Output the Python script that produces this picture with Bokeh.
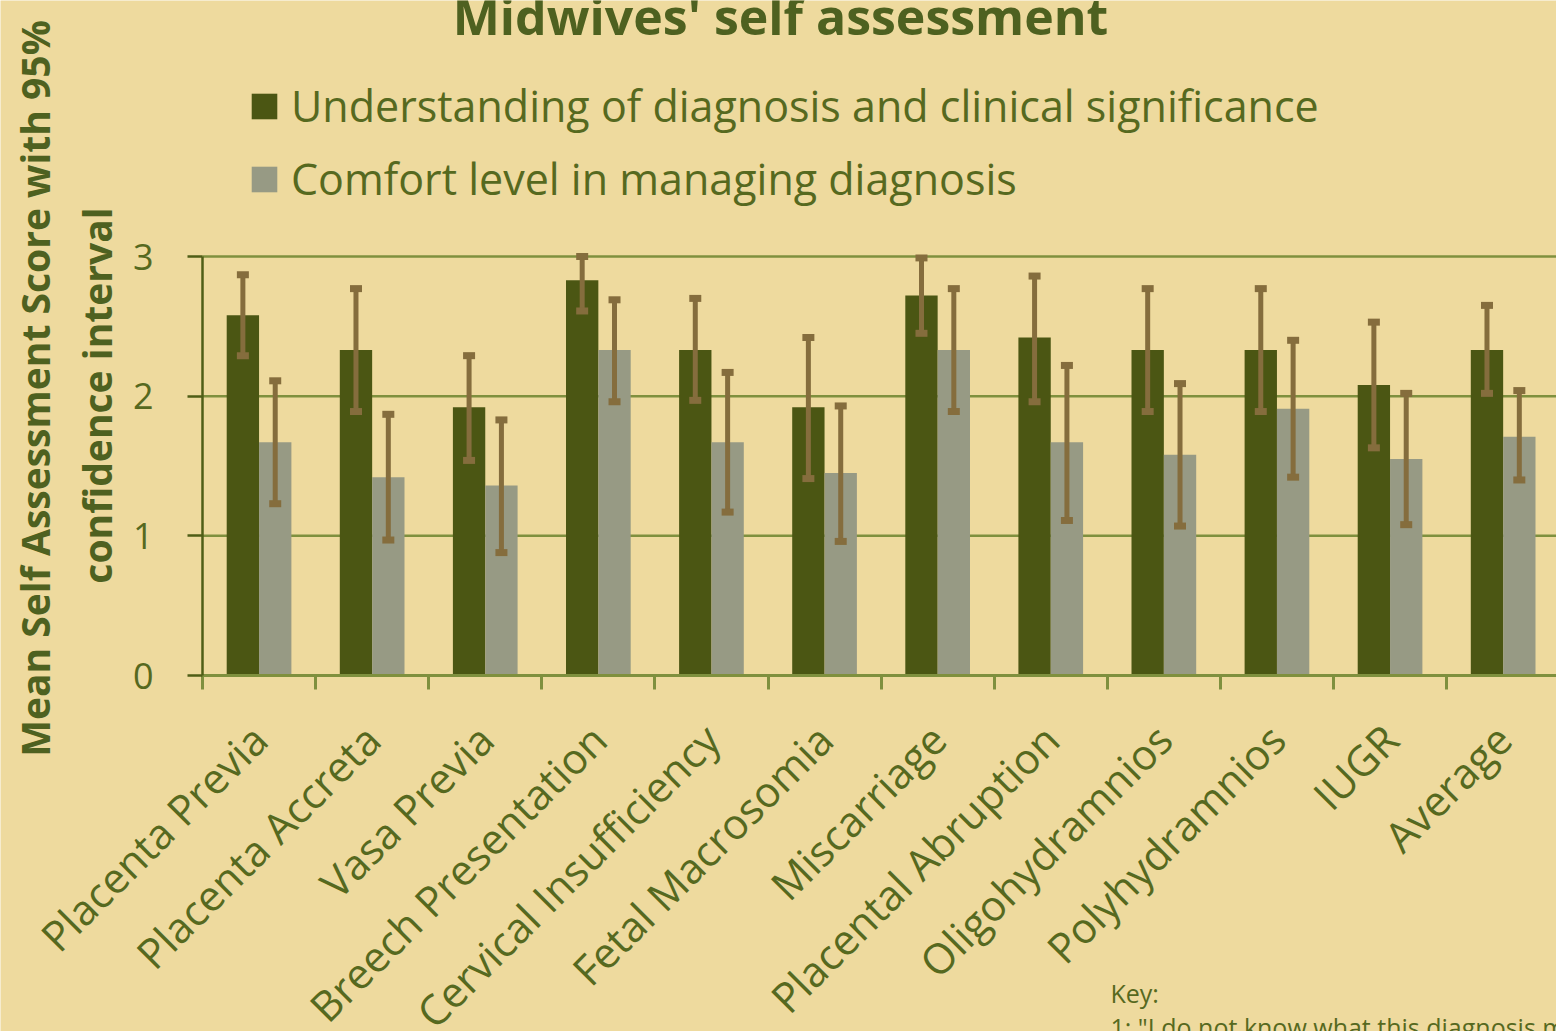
import math
from bokeh.plotting import figure
from bokeh.models import (ColumnDataSource, FixedTicker, Range1d, Label, Legend, LegendItem,
                          CustomJSTickFormatter)
from bokeh.embed import file_html
from bokeh.resources import INLINE

# ---------------- data ----------------
categories = ["Placenta Previa", "Placenta Accreta", "Vasa Previa", "Breech Presentation",
              "Cervical Insufficiency", "Fetal Macrosomia", "Miscarriage", "Placental Abruption",
              "Oligohydramnios", "Polyhydramnios", "IUGR", "Average"]

understanding = [2.58, 2.33, 1.92, 2.83, 2.33, 1.92, 2.72, 2.42, 2.33, 2.33, 2.08, 2.33]
understanding_lo = [2.29, 1.89, 1.54, 2.61, 1.97, 1.41, 2.45, 1.96, 1.89, 1.89, 1.63, 2.02]
understanding_hi = [2.87, 2.77, 2.29, 3.00, 2.70, 2.42, 2.99, 2.86, 2.77, 2.77, 2.53, 2.65]

comfort = [1.67, 1.42, 1.36, 2.33, 1.67, 1.45, 2.33, 1.67, 1.58, 1.91, 1.55, 1.71]
comfort_lo = [1.23, 0.97, 0.88, 1.96, 1.17, 0.96, 1.89, 1.11, 1.07, 1.42, 1.08, 1.40]
comfort_hi = [2.11, 1.87, 1.83, 2.69, 2.17, 1.93, 2.77, 2.22, 2.09, 2.40, 2.02, 2.04]

y_ticks = [0, 1, 2, 3]

series_names = ["Understanding of diagnosis and clinical significance",
                "Comfort level in managing diagnosis"]

title_text = "Midwives' self assessment"
ylabel_lines = ["Mean Self Assessment Score with 95%", "confidence interval"]
key_lines = ["Key:", "1: \"I do not know what this diagnosis means\""]

# ---------------- style / geometry ----------------
BG = "#EEDA9E"
DARK = "#4B5613"
GRAY = "#979A84"
ERR = "#856D3D"
GRID = "#7F903E"
AXIS_DARK = "#4F5E16"
TEXT = "#56691F"
TITLE = "#4E6120"
FONT = "Open Sans"

W, H = 1556, 1031
X0_PX, Y0_PX = 202, 675          # pixel position of data origin
UX, UY = 113.1, 419 / 3           # pixels per data unit

def dx(px):
    return (px - X0_PX) / UX

def dy(py):
    return (Y0_PX - py) / UY

x_end = dx(W)

p = figure(width=W, height=H, output_backend="svg", toolbar_location=None,
           x_range=Range1d(dx(0), x_end), y_range=Range1d(dy(H), dy(0)),
           min_border=0)
p.background_fill_color = BG
p.border_fill_color = BG
p.outline_line_color = None
p.xgrid.visible = False
p.ygrid.visible = False

n = len(categories)
centers = [i + 0.5 for i in range(n)]
off = 0.143
bw = 0.286

# horizontal grid lines (from the y ticks, starting at the axis)
grid_vals = [t for t in y_ticks if t > 0]
p.segment(x0=[0] * len(grid_vals), x1=[x_end] * len(grid_vals), y0=grid_vals, y1=grid_vals,
          line_color=GRID, line_width=2.5, level="underlay")

src1 = ColumnDataSource(dict(x=[c - off for c in centers], top=understanding,
                             lo=understanding_lo, hi=understanding_hi))
src2 = ColumnDataSource(dict(x=[c + off for c in centers], top=comfort,
                             lo=comfort_lo, hi=comfort_hi))

r1 = p.vbar(x="x", top="top", bottom=0, width=bw, source=src1, fill_color=DARK, line_color=None)
r2 = p.vbar(x="x", top="top", bottom=0, width=bw, source=src2, fill_color=GRAY, line_color=None)

for s in (src1, src2):
    p.segment(x0="x", x1="x", y0="lo", y1="hi", source=s, line_color=ERR, line_width=5)
    p.rect(x="x", y="lo", width=12, height=7, width_units="screen", height_units="screen",
           source=s, fill_color=ERR, line_color=None)
    p.rect(x="x", y="hi", width=12, height=7, width_units="screen", height_units="screen",
           source=s, fill_color=ERR, line_color=None)

# y axis (placed at x = 0)
ya = p.yaxis[0]
ya.fixed_location = 0
ya.bounds = (0, 3)
ya.ticker = FixedTicker(ticks=y_ticks)
ya.axis_line_color = AXIS_DARK
ya.axis_line_width = 2.5
ya.major_tick_line_color = AXIS_DARK
ya.major_tick_line_width = 2.5
ya.major_tick_out = 15
ya.major_tick_in = 0
ya.minor_tick_line_color = None
ya.major_label_text_font = FONT
ya.major_label_text_font_size = "36px"
ya.major_label_text_color = TEXT
ya.major_label_standoff = 34

# x axis (placed at y = 0): labels at centres, tick marks at boundaries
xa = p.xaxis[0]
xa.fixed_location = 0
xa.bounds = (0, x_end)
xa.ticker = FixedTicker(ticks=centers, minor_ticks=[float(i) for i in range(n + 1)])
xa.formatter = CustomJSTickFormatter(args=dict(cats=categories),
                                     code="return cats[Math.round(tick - 0.5)];")
xa.axis_line_color = GRID
xa.axis_line_width = 3
xa.major_tick_line_color = None
xa.major_tick_out = 0
xa.major_tick_in = 0
xa.minor_tick_line_color = GRID
xa.minor_tick_line_width = 3
xa.minor_tick_out = 14
xa.minor_tick_in = 0
xa.major_label_orientation = math.pi / 4
xa.major_label_text_font = FONT
xa.major_label_text_font_size = "42px"
xa.major_label_text_color = TEXT
xa.major_label_standoff = 42

# legend
legend = Legend(items=[LegendItem(label=series_names[0], renderers=[r1]),
                       LegendItem(label=series_names[1], renderers=[r2])],
                location=(248, 823))
legend.glyph_width = 32
legend.glyph_height = 32
legend.label_standoff = 11
legend.label_text_font = FONT
legend.label_text_font_size = "43px"
legend.label_text_color = TEXT
legend.spacing = 14
legend.padding = 0
legend.margin = 0
legend.border_line_color = None
legend.background_fill_alpha = 0
p.add_layout(legend)

# title
p.add_layout(Label(x=dx(780), y=dy(15), text=title_text,
                   text_font=FONT, text_font_style="bold", text_font_size="50px",
                   text_color=TITLE, text_align="center", text_baseline="alphabetic"))

# y-axis label (two lines)
p.add_layout(Label(x=dx(34), y=dy(388), text=ylabel_lines[0],
                   angle=math.pi / 2, text_font=FONT, text_font_style="bold",
                   text_font_size="39px", text_color=TITLE,
                   text_align="center", text_baseline="middle"))
p.add_layout(Label(x=dx(96), y=dy(395), text=ylabel_lines[1],
                   angle=math.pi / 2, text_font=FONT, text_font_style="bold",
                   text_font_size="39px", text_color=TITLE,
                   text_align="center", text_baseline="middle"))

# key text (bottom right, partly cut off)
p.add_layout(Label(x=dx(1110), y=dy(992), text=key_lines[0], text_font=FONT,
                   text_font_size="25px", text_color=TEXT, text_baseline="alphabetic"))
p.add_layout(Label(x=dx(1110), y=dy(1026), text=key_lines[1],
                   text_font=FONT, text_font_size="25px", text_color=TEXT,
                   text_baseline="alphabetic"))

open("out.html", "w").write(file_html(p, INLINE))
